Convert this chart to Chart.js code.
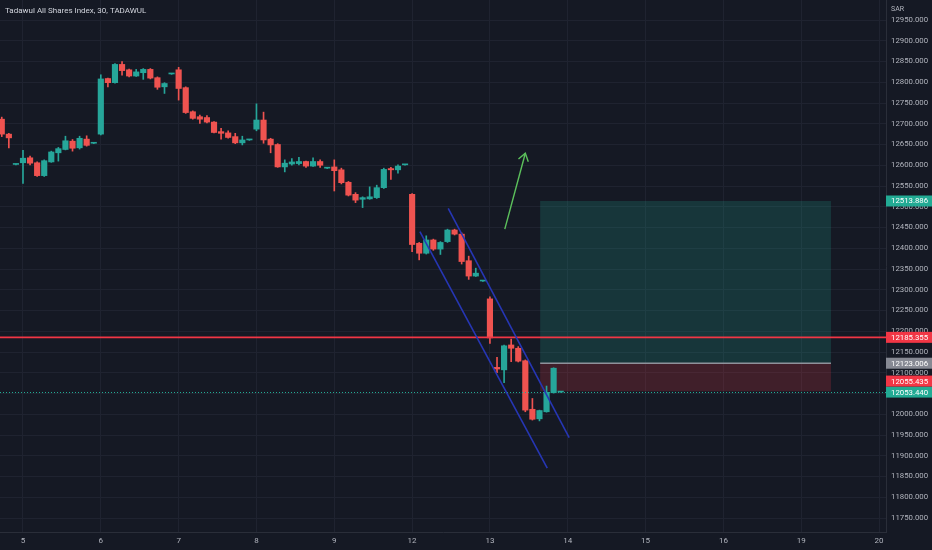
<!DOCTYPE html>
<html>
<head>
<meta charset="utf-8">
<script src="https://cdn.jsdelivr.net/npm/chart.js@4.4.1/dist/chart.umd.min.js"></script>
<style>
  html, body { margin: 0; padding: 0; background: #151924; }
  #wrap { width: 932px; height: 550px; }
</style>
</head>
<body>
<div id="wrap"><canvas id="chart"></canvas></div>
<script>
// 30 min bars, 11 per session; bar 0 is the first bar of the 5th
const dayLabels = ['5', '6', '7', '8', '9', '12', '13', '14', '15', '16', '19', '20'];
const barsPerDay = 11;
const firstBar = -3;

const opens = [
  12711, 12675, 12602,
  12606, 12618, 12606, 12575, 12608, 12630, 12638, 12658, 12642, 12663, 12653,
  12675, 12809, 12799, 12843, 12830, 12815, 12823, 12831, 12811, 12789, 12820,
  12830, 12787, 12729, 12717, 12715, 12704, 12681, 12678, 12669, 12654, 12661,
  12687, 12709, 12663, 12650, 12596, 12603, 12604, 12609, 12598, 12609, 12593,
  12596, 12589, 12559, 12530, 12518, 12519, 12522, 12546, 12592, 12589, 12601,
  12530, 12412, 12388, 12420, 12398, 12416, 12444, 12434, 12370, 12333, 12321,
  12278, 12113, 12107, 12167, 12159, 12129, 12012, 11989, 12006, 12052, 12053.44
];
const highs = [
  12716, 12677, 12603,
  12636, 12622, 12608, 12613, 12634, 12643, 12670, 12662, 12670, 12671, 12654,
  12818, 12810, 12845, 12850, 12832, 12831, 12833, 12833, 12813, 12799, 12821,
  12836, 12789, 12731, 12721, 12720, 12705, 12689, 12683, 12677, 12670, 12662,
  12748, 12728, 12665, 12652, 12613, 12616, 12619, 12610, 12618, 12613, 12594,
  12613, 12593, 12561, 12534, 12524, 12548, 12552, 12593, 12595, 12601, 12602,
  12532, 12414, 12430, 12422, 12416, 12446, 12446, 12437, 12381, 12352, 12322,
  12283, 12137, 12167, 12181, 12163, 12131, 12038, 12010, 12068, 12112, 12054
];
const lows = [
  12669, 12642, 12601,
  12556, 12601, 12573, 12573, 12607, 12610, 12637, 12634, 12639, 12646, 12652,
  12673, 12789, 12798, 12817, 12813, 12814, 12807, 12808, 12783, 12773, 12819,
  12757, 12725, 12711, 12701, 12702, 12678, 12663, 12665, 12652, 12649, 12660,
  12683, 12653, 12630, 12595, 12584, 12600, 12601, 12595, 12597, 12595, 12592,
  12538, 12555, 12526, 12510, 12498, 12518, 12520, 12544, 12566, 12581, 12600,
  12392, 12372, 12386, 12395, 12385, 12414, 12432, 12362, 12325, 12332, 12320,
  12171, 12100, 12076, 12127, 12126, 12006, 11986, 11984, 12005, 12051, 12053
];
const closes = [
  12675, 12666, 12602,
  12617, 12605, 12575, 12611, 12632, 12640, 12659, 12641, 12665, 12648, 12653,
  12808, 12799, 12843, 12828, 12815, 12825, 12831, 12810, 12788, 12797, 12820,
  12785, 12727, 12713, 12711, 12704, 12679, 12677, 12667, 12654, 12661, 12661,
  12709, 12661, 12649, 12596, 12605, 12608, 12609, 12598, 12609, 12600, 12593,
  12587, 12558, 12528, 12516, 12522, 12524, 12546, 12590, 12589, 12598, 12601,
  12409, 12388, 12420, 12398, 12414, 12444, 12434, 12368, 12333, 12340, 12321,
  12184, 12109, 12165, 12159, 12128, 12010, 11988, 12009, 12053, 12111, 12053.44
];

const priceTicks = [
  11750, 11800, 11850, 11900, 11950, 12000, 12050, 12100, 12150, 12200, 12250, 12300,
  12350, 12400, 12450, 12500, 12550, 12600, 12650, 12700, 12750, 12800, 12850, 12900, 12950
];

// drawings (bar position, price)
const channelUpper = [[60.1, 12496], [77.2, 11944]];
const channelLower = [[56.1, 12440], [74.1, 11870]];
const arrowLine = [[68.1, 12446], [71.0, 12629]];
const positionBars = [73.1, 114.2];
const targetPrice = 12513.886;
const entryPrice = 12123.006;
const stopPrice = 12055.435;
const resistancePrice = 12185.355;
const lastPrice = 12053.44;

const UP = '#26a69a';
const DOWN = '#ef5350';
const FONT = 'Roboto, "Noto Sans", sans-serif';

const xs = opens.map((_, i) => firstBar + i);
const colors = opens.map((o, i) => closes[i] >= o ? UP : DOWN);
const wicks = xs.map((x, i) => ({ x: x, y: [lows[i], highs[i]] }));
const bodies = xs.map((x, i) => ({ x: x, y: [Math.min(opens[i], closes[i]), Math.max(opens[i], closes[i])] }));

const drawings = {
  id: 'drawings',
  beforeDraw(chart) {
    const ctx = chart.ctx;
    ctx.save();
    ctx.fillStyle = '#151924';
    ctx.fillRect(0, 0, chart.width, chart.height);
    ctx.restore();
  },
  beforeDatasetsDraw(chart) {
    const { ctx, chartArea: a, scales: { x, y } } = chart;
    const x0 = x.getPixelForValue(positionBars[0]);
    const x1 = x.getPixelForValue(positionBars[1]);
    const yT = y.getPixelForValue(targetPrice);
    const yE = y.getPixelForValue(entryPrice);
    const yS = y.getPixelForValue(stopPrice);
    ctx.save();
    ctx.fillStyle = 'rgba(34, 171, 148, 0.2)';
    ctx.fillRect(x0, yT, x1 - x0, yE - yT);
    ctx.fillStyle = 'rgba(242, 54, 69, 0.2)';
    ctx.fillRect(x0, yE, x1 - x0, yS - yE);
    ctx.strokeStyle = '#8f929b';
    ctx.lineWidth = 1.6;
    ctx.beginPath();
    ctx.moveTo(x0, yE);
    ctx.lineTo(x1, yE);
    ctx.stroke();
    ctx.restore();
  },
  afterDatasetsDraw(chart) {
    const { ctx, chartArea: a, scales: { x, y } } = chart;
    const px = p => [x.getPixelForValue(p[0]), y.getPixelForValue(p[1])];
    ctx.save();
    ctx.beginPath();
    ctx.rect(a.left, a.top, a.right - a.left, a.bottom - a.top);
    ctx.clip();

    // horizontal levels
    let yy = y.getPixelForValue(resistancePrice);
    ctx.strokeStyle = '#f23645';
    ctx.lineWidth = 1.8;
    ctx.beginPath(); ctx.moveTo(a.left, yy); ctx.lineTo(a.right, yy); ctx.stroke();

    yy = Math.round(y.getPixelForValue(lastPrice)) + 0.5;
    ctx.strokeStyle = '#22ab94';
    ctx.lineWidth = 1.2;
    ctx.setLineDash([1, 2]);
    ctx.beginPath(); ctx.moveTo(a.left, yy); ctx.lineTo(a.right, yy); ctx.stroke();
    ctx.setLineDash([]);

    // channel
    ctx.strokeStyle = '#2636b4';
    ctx.lineWidth = 1.6;
    [channelUpper, channelLower].forEach(line => {
      const p0 = px(line[0]), p1 = px(line[1]);
      ctx.beginPath(); ctx.moveTo(p0[0], p0[1]); ctx.lineTo(p1[0], p1[1]); ctx.stroke();
    });

    // arrow
    const s = px(arrowLine[0]), t = px(arrowLine[1]);
    ctx.strokeStyle = '#5cc15c';
    ctx.lineWidth = 1.4;
    ctx.beginPath(); ctx.moveTo(s[0], s[1]); ctx.lineTo(t[0], t[1]); ctx.stroke();
    const ang = Math.atan2(s[1] - t[1], s[0] - t[0]);
    ctx.beginPath();
    ctx.moveTo(t[0] + 9 * Math.cos(ang + 0.6), t[1] + 9 * Math.sin(ang + 0.6));
    ctx.lineTo(t[0], t[1]);
    ctx.lineTo(t[0] + 9 * Math.cos(ang - 0.6), t[1] + 9 * Math.sin(ang - 0.6));
    ctx.stroke();
    ctx.restore();
  },
  afterDraw(chart) {
    const { ctx, chartArea: a, scales: { y } } = chart;
    ctx.save();
    ctx.font = '8px ' + FONT;
    ctx.fillStyle = '#d1d4dc';
    ctx.textBaseline = 'middle';
    ctx.fillText('Tadawul All Shares Index, 30, TADAWUL', 5, 11);
    ctx.font = '7px ' + FONT;
    ctx.fillStyle = '#b2b5be';
    ctx.fillText('SAR', a.right + 5, 9);

    // price labels on the axis, pushed up when they overlap
    const tags = [
      { v: lastPrice, bg: '#22ab94' },
      { v: stopPrice, bg: '#f23645' },
      { v: entryPrice, bg: '#868993' },
      { v: resistancePrice, bg: '#f23645' },
      { v: targetPrice, bg: '#22ab94' }
    ];
    const h = 11;
    let prevTop = Infinity;
    ctx.font = '7.8px ' + FONT;
    tags.forEach(tag => {
      let cy = y.getPixelForValue(tag.v);
      if (cy + h / 2 > prevTop) cy = prevTop - h / 2;
      prevTop = cy - h / 2;
      ctx.fillStyle = tag.bg;
      ctx.fillRect(a.right, cy - h / 2, chart.width - a.right, h);
      ctx.fillStyle = '#ffffff';
      ctx.fillText(tag.v.toFixed(3), a.right + 5, cy + 0.5);
    });
    ctx.restore();
  }
};

new Chart(document.getElementById('chart'), {
  data: {
    datasets: [
      {
        type: 'bar',
        data: wicks,
        backgroundColor: colors,
        barThickness: 1,
        grouped: false,
        order: 2
      },
      {
        type: 'bar',
        data: bodies,
        backgroundColor: colors,
        barThickness: 5.5,
        minBarLength: 1,
        grouped: false,
        order: 1
      }
    ]
  },
  options: {
    responsive: true,
    maintainAspectRatio: false,
    animation: false,
    events: [],
    layout: { padding: 0 },
    plugins: {
      legend: { display: false },
      tooltip: { enabled: false }
    },
    scales: {
      x: {
        type: 'linear',
        offset: false,
        min: -3.25,
        max: 121.98,
        afterBuildTicks: s => {
          s.ticks = dayLabels.map((_, i) => ({ value: i * barsPerDay }));
        },
        afterFit: s => {
          s.height = 18;
          s.paddingLeft = 0;
          s.paddingRight = 0;
        },
        grid: { color: '#1f2330', drawTicks: false, offset: false },
        border: { color: '#2a2e39' },
        ticks: {
          autoSkip: false,
          maxRotation: 0,
          padding: 4,
          color: '#b2b5be',
          font: { family: FONT, size: 8 },
          callback: (v, i) => dayLabels[i]
        }
      },
      y: {
        position: 'right',
        min: 11716.3,
        max: 12998.2,
        afterBuildTicks: s => {
          s.ticks = priceTicks.map(v => ({ value: v }));
        },
        afterFit: s => {
          s.width = 46;
          s.paddingTop = 0;
          s.paddingBottom = 0;
        },
        grid: { color: '#1f2330', drawTicks: false },
        border: { color: '#2a2e39' },
        ticks: {
          padding: 5,
          color: '#b2b5be',
          font: { family: FONT, size: 7.8 },
          callback: v => v.toFixed(3)
        }
      }
    }
  },
  plugins: [drawings]
});
</script>
</body>
</html>
